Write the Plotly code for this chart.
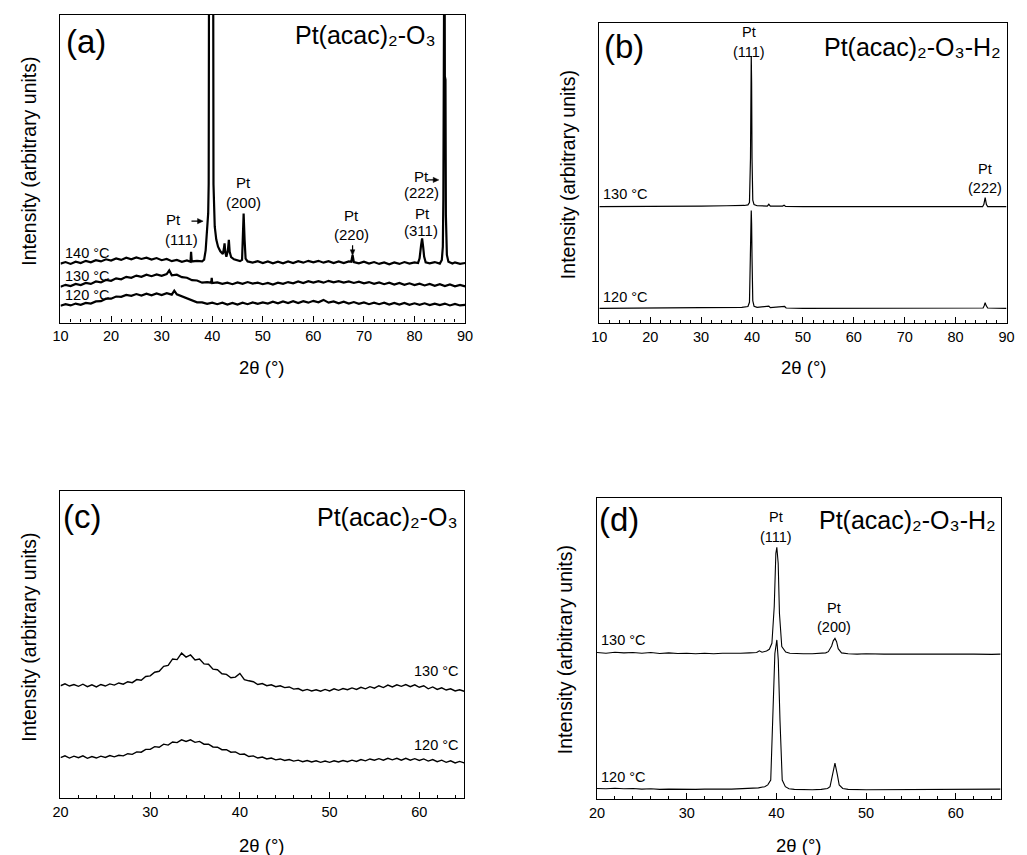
import plotly.graph_objects as go

W, H = 1027, 855
FONT = "Arial, Liberation Sans, sans-serif"

# ---------------- panel (a): Pt(acac)2-O3, 10-90 deg ----------------
a140_x = [10, 11, 12, 13, 14, 15, 16, 17, 18, 19, 20, 21, 22, 23, 24, 25, 26, 27, 28, 29,
          30, 31, 32, 33, 34, 35, 35.7, 35.82, 35.95, 37, 38, 38.4, 38.7, 38.9, 39.2, 39.3,
          39.39, 39.8, 40.17, 40.25, 40.35, 40.5, 40.8, 41.15, 41.6, 42.1, 42.3, 42.44, 42.6,
          42.8, 43.1, 43.29, 43.45, 43.74, 44.3, 44.9, 45.5, 45.9, 46.05, 46.21, 46.4, 46.6,
          47, 48, 49, 50, 51, 52, 53, 54, 55, 56, 57, 58, 59, 60, 61, 62, 63, 64, 65, 66, 67,
          67.5, 67.75, 68.0, 69, 70, 71, 72, 73, 74, 75, 76, 77, 78, 79, 80, 80.7, 81.0, 81.3,
          81.5, 81.7, 81.9, 82.2, 83, 84, 85, 85.4, 85.6, 85.7, 85.78, 85.92, 86.0, 86.12,
          86.2, 86.4, 86.7, 87.5, 88, 89, 90]
a140_y = [19.2, 19.7, 19.1, 19.8, 19.4, 20.1, 19.6, 20.3, 19.9, 20.6, 20.2, 20.9, 20.4, 21.1,
          20.6, 21.2, 20.7, 21.1, 20.5, 21.0, 20.3, 20.7, 20.0, 20.4, 19.8, 20.2, 19.8, 23.0,
          19.9, 20.1, 19.9, 20.5, 23.5, 29.0, 35.5, 45.0, 140, 200, 140, 45.0, 38.0, 31.2,
          27.0, 24.7, 23.2, 22.3, 24.0, 25.8, 22.8, 21.4, 23.5, 26.9, 23.0, 21.3, 20.6, 20.3,
          20.0, 20.4, 26.9, 35.5, 26.9, 20.8, 19.9, 19.5, 20.0, 19.4, 19.9, 19.3, 19.8, 19.3,
          19.9, 19.4, 20.0, 19.5, 20.1, 19.6, 20.1, 19.5, 20.0, 19.4, 19.9, 19.4, 19.9, 19.8,
          22.0, 19.7, 19.3, 19.8, 19.2, 19.7, 19.1, 19.6, 19.0, 19.6, 19.1, 19.7, 19.2, 19.6,
          19.4, 20.9, 25.2, 27.4, 24.7, 21.5, 19.6, 19.3, 19.7, 19.2, 20.4, 24.7, 40.0, 140,
          140, 80.0, 79.0, 35.0, 22.0, 19.8, 19.2, 19.6, 19.1, 19.4]

a130_x = [10, 11, 12, 13, 14, 15, 16, 17, 18, 19, 20, 21, 22, 23, 24, 25, 26, 27, 28, 29,
          30, 31, 31.5, 32, 33, 34, 35, 36, 37, 38, 39, 39.8, 39.9, 40.0, 41, 42, 43, 44, 45,
          46, 47, 48, 49, 50, 51, 52, 53, 54, 55, 56, 57, 58, 59, 60, 61, 62, 63, 64, 65, 66,
          67, 68, 69, 70, 71, 72, 73, 74, 75, 76, 77, 78, 79, 80, 81, 82, 83, 84, 85, 86, 87,
          88, 89, 90]
a130_y = [11.7, 12.3, 11.9, 12.6, 12.2, 12.9, 12.6, 13.4, 13.1, 13.9, 13.6, 14.4, 14.1, 14.9,
          14.6, 15.3, 14.9, 15.6, 15.1, 15.7, 15.2, 15.8, 17.0, 15.4, 15.6, 14.8, 14.6, 13.8,
          13.7, 13.0, 13.2, 13.0, 14.6, 12.9, 13.1, 12.6, 13.0, 12.5, 13.1, 12.6, 13.2, 12.7,
          13.0, 12.5, 12.9, 12.4, 13.0, 12.6, 13.2, 12.8, 13.4, 12.9, 13.5, 13.0, 13.5, 13.0,
          13.6, 13.1, 13.5, 13.0, 13.4, 12.9, 13.3, 12.8, 13.2, 12.6, 13.1, 12.5, 13.0, 12.4,
          12.9, 12.3, 12.8, 12.2, 12.7, 12.1, 12.6, 12.0, 12.5, 11.9, 12.4, 11.8, 12.3, 11.8]

a120_x = [10, 11, 12, 13, 14, 15, 16, 17, 18, 19, 20, 21, 22, 23, 24, 25, 26, 27, 28, 29,
          30, 31, 32, 32.5, 33, 34, 35, 36, 37, 38, 39, 40, 41, 42, 43, 44, 45, 46, 47, 48, 49,
          50, 51, 52, 53, 54, 55, 56, 57, 58, 59, 60, 61, 62, 63, 64, 65, 66, 67, 68, 69, 70,
          71, 72, 73, 74, 75, 76, 77, 78, 79, 80, 81, 82, 83, 84, 85, 86, 87, 88, 89, 90]
a120_y = [5.5, 6.0, 5.6, 6.2, 5.8, 6.4, 6.2, 6.9, 7.0, 7.8, 7.8, 8.5, 8.4, 9.0, 8.7, 9.3, 8.8,
          9.4, 8.9, 9.5, 9.0, 9.6, 9.1, 10.4, 9.2, 8.6, 7.9, 7.4, 6.6, 6.6, 6.1, 6.5, 6.0, 6.5,
          5.9, 6.4, 5.9, 6.5, 6.0, 6.6, 6.1, 6.6, 6.2, 6.8, 6.3, 6.9, 6.4, 7.0, 6.4, 7.0, 6.5,
          7.1, 6.6, 7.4, 6.5, 6.9, 6.3, 6.8, 6.2, 6.7, 6.1, 6.6, 6.0, 6.5, 6.0, 6.5, 5.9, 6.4,
          5.9, 6.4, 5.8, 6.3, 5.8, 6.3, 5.7, 6.2, 5.7, 6.2, 5.6, 6.1, 5.6, 5.8]

# ---------------- panel (b): Pt(acac)2-O3-H2, 10-90 deg ----------------
b130_x = [10, 17, 18.5, 20, 25, 30, 35, 37, 38.5, 39.2, 39.5, 39.7, 39.78, 39.85, 39.92, 40.0,
          40.15, 40.4, 41, 43, 43.3, 43.6, 46, 46.3, 46.6, 50, 60, 70, 80, 85.3, 85.55, 85.8,
          86.05, 86.3, 90]
b130_y = [38.8, 38.8, 38.9, 39.0, 39.0, 39.0, 39.1, 39.1, 39.2, 39.4, 40.2, 55.0, 80.0, 88.9,
          80.0, 55.0, 41.0, 39.5, 39.1, 39.0, 39.6, 39.0, 39.0, 39.3, 38.9, 38.8, 38.8, 38.8,
          38.8, 38.8, 39.6, 41.8, 39.5, 38.8, 38.8]

b120_x = [10, 17, 20, 30, 38, 39.2, 39.5, 39.7, 39.78, 39.85, 39.92, 40.0, 40.15, 40.4, 41,
          43.3, 43.6, 46.4, 46.7, 50, 60, 70, 81.3, 85.4, 85.6, 85.8, 86.0, 86.3, 90]
b120_y = [5.0, 5.0, 5.2, 5.2, 5.3, 5.6, 7.0, 22.0, 33.0, 37.5, 33.0, 22.0, 7.5, 5.7, 5.3, 5.7,
          5.2, 5.6, 5.1, 5.0, 5.0, 5.0, 5.2, 5.1, 5.8, 6.9, 5.9, 5.1, 5.0]

# ---------------- panel (c): Pt(acac)2-O3, 20-65 deg ----------------
c_x = [20, 20.5, 21, 21.5, 22, 22.5, 23, 23.5, 24, 24.5, 25, 25.5, 26, 26.5, 27, 27.5, 28,
       28.5, 29, 29.5, 30, 30.5, 31, 31.5, 32, 32.5, 33, 33.5, 34, 34.5, 35, 35.5, 36, 36.5,
       37, 37.5, 38, 38.5, 39, 39.5, 40, 40.5, 41, 41.5, 42, 42.5, 43, 43.5, 44, 44.5, 45,
       45.5, 46, 46.5, 47, 47.5, 48, 48.5, 49, 49.5, 50, 50.5, 51, 51.5, 52, 52.5, 53, 53.5,
       54, 54.5, 55, 55.5, 56, 56.5, 57, 57.5, 58, 58.5, 59, 59.5, 60, 60.5, 61, 61.5, 62,
       62.5, 63, 63.5, 64, 64.5, 65]
c130_y = [36.6, 37.2, 36.5, 37.0, 36.4, 37.1, 36.3, 36.9, 36.2, 37.0, 36.5, 37.2, 36.8, 37.5,
          37.1, 37.9, 37.6, 38.6, 38.4, 39.6, 39.8, 41.0, 41.3, 42.9, 43.2, 45.3, 45.1, 47.2,
          45.9, 46.6, 45.0, 45.3, 43.7, 43.6, 42.0, 41.8, 40.5, 40.3, 39.2, 39.4, 40.6, 38.6,
          38.2, 37.9, 37.0, 37.3, 36.6, 36.9, 36.3, 36.6, 36.0, 36.2, 35.5, 35.7, 35.0, 35.4,
          34.9, 35.3, 34.8, 35.4, 34.9, 35.6, 35.1, 35.7, 35.3, 35.9, 35.4, 36.1, 35.6, 36.3,
          35.8, 36.6, 36.0, 36.8, 36.2, 36.9, 36.4, 37.0, 36.3, 36.9, 36.1, 36.6, 35.6, 36.2,
          35.4, 35.9, 35.2, 35.6, 34.9, 35.3, 34.8]
c120_y = [13.2, 13.8, 13.1, 13.7, 13.2, 13.8, 13.0, 13.6, 13.1, 13.7, 13.3, 13.9, 13.5, 14.0,
          13.8, 14.5, 14.3, 15.1, 15.0, 15.9, 15.9, 16.8, 16.6, 17.6, 17.3, 18.3, 18.1, 19.0,
          18.5, 19.0, 18.2, 18.5, 17.6, 17.6, 16.7, 16.6, 15.8, 15.8, 15.0, 15.1, 14.3, 14.4,
          13.6, 13.8, 13.1, 13.4, 12.8, 13.1, 12.5, 12.8, 12.3, 12.6, 12.1, 12.4, 11.9, 12.3,
          11.8, 12.2, 11.7, 12.1, 11.7, 12.2, 11.8, 12.3, 11.9, 12.4, 12.0, 12.6, 12.2, 12.8,
          12.4, 12.9, 12.4, 13.0, 12.5, 13.0, 12.4, 13.0, 12.4, 12.9, 12.3, 12.8, 12.1, 12.6,
          11.9, 12.4, 11.7, 12.2, 11.5, 12.0, 11.5]

# ---------------- panel (d): Pt(acac)2-O3-H2, 20-65 deg ----------------
d130_x = [20, 21, 22, 23, 24, 25, 26, 27, 28, 29, 30, 31, 32, 33, 34, 35, 36, 37, 37.8, 38.1,
          38.4, 38.9, 39.21, 39.5, 39.76, 39.94, 40.05, 40.2, 40.34, 40.6, 41.04, 41.5, 42, 43,
          44, 45, 45.5, 45.79, 46.16, 46.34, 46.53, 46.71, 46.89, 47.26, 48, 49, 50, 52, 54,
          56, 58, 60, 62, 64, 65]
d130_y = [48.7, 48.5, 48.8, 48.6, 48.7, 48.5, 48.7, 48.4, 48.6, 48.4, 48.5, 48.3, 48.5, 48.3,
          48.5, 48.4, 48.5, 48.6, 48.7, 49.3, 48.8, 49.2, 49.8, 51.8, 64.0, 81.7, 83.7, 78.4,
          61.8, 50.7, 48.9, 48.5, 48.4, 48.3, 48.3, 48.4, 48.6, 49.0, 50.9, 52.6, 53.4, 52.3,
          50.0, 48.6, 48.3, 48.2, 48.3, 48.2, 48.3, 48.2, 48.2, 48.3, 48.2, 48.1, 48.2]

d120_x = [20, 21, 22, 23, 24, 25, 26, 27, 28, 29, 30, 31, 32, 33, 34, 35, 36, 37, 38, 38.7,
          39.04, 39.37, 39.61, 39.83, 40.05, 40.21, 40.4, 40.65, 41.0, 41.4, 42, 43, 44, 45,
          45.7, 45.98, 46.2, 46.53, 46.8, 47.0, 47.4, 48, 50, 52, 54, 56, 58, 60, 62, 64, 65]
d120_y = [3.5, 3.4, 3.6, 3.4, 3.5, 3.3, 3.4, 3.2, 3.3, 3.2, 3.3, 3.2, 3.3, 3.2, 3.3, 3.3, 3.4,
          3.5, 3.7, 4.1, 4.7, 6.3, 26.3, 48.4, 52.9, 46.2, 26.3, 6.3, 4.1, 3.4, 3.2, 3.1, 3.1,
          3.2, 3.5, 4.1, 7.4, 11.9, 8.0, 4.7, 3.5, 3.2, 3.1, 3.1, 3.2, 3.1, 3.1, 3.2, 3.1, 3.2,
          3.3]

temps = ["140 °C", "130 °C", "120 °C"]
title_o3 = "Pt(acac)₂-O₃"
title_o3h2 = "Pt(acac)₂-O₃-H₂"

fig = go.Figure()


def line(x, y, axis, width):
    fig.add_trace(go.Scatter(x=x, y=y, mode="lines", xaxis="x" + axis, yaxis="y" + axis,
                             line=dict(color="black", width=width), showlegend=False,
                             hoverinfo="skip"))


line(a140_x, a140_y, "", 2.2)
line(a130_x, a130_y, "", 2.2)
line(a120_x, a120_y, "", 2.2)
line(b130_x, b130_y, "2", 1.2)
line(b120_x, b120_y, "2", 1.2)
line(c_x, c130_y, "3", 1.4)
line(c_x, c120_y, "3", 1.4)
line(d130_x, d130_y, "4", 1.1)
line(d120_x, d120_y, "4", 1.1)

# panel frames in pixel coordinates: left, top, right, bottom
boxes = {
    "": (53.33, 15.0, 464.33, 322.67),
    "2": (600.67, 22.67, 1014.33, 323.33),
    "3": (53.33, 490.67, 463.33, 798.33),
    "4": (598.33, 498.33, 1008.33, 799.0),
}
xranges = {"": [10, 90], "2": [10, 90], "3": [20, 65], "4": [20, 65]}

layout = dict(width=W, height=H, margin=dict(l=0, r=0, t=0, b=0),
              paper_bgcolor="white", plot_bgcolor="white",
              font=dict(family=FONT, color="black"))
for k, (l, t, r, b) in boxes.items():
    layout["xaxis" + k] = dict(
        domain=[l / W, r / W], range=xranges[k], anchor="y" + k,
        showline=True, linecolor="black", linewidth=1.4, mirror=True,
        ticks="inside", ticklen=6, tickwidth=1.2, tickcolor="black", dtick=10,
        minor=dict(dtick=2, ticks="inside", ticklen=3, tickwidth=1.1, tickcolor="black"),
        showgrid=False, zeroline=False, tickfont=dict(size=14.5, family=FONT, color="black"))
    layout["yaxis" + k] = dict(
        domain=[1 - b / H, 1 - t / H], range=[0, 100], anchor="x" + k,
        showline=True, linecolor="black", linewidth=1.4, mirror=True,
        ticks="", showticklabels=False, showgrid=False, zeroline=False)
fig.update_layout(**layout)

ann = []
shapes = []


def text(axis, x, y, s, size=15, xa="center", ya="middle"):
    ann.append(dict(x=x, y=y, xref="x" + axis, yref="y" + axis, text=s, showarrow=False,
                    xanchor=xa, yanchor=ya, font=dict(size=size, family=FONT, color="black")))


# small pointer arrows of panel (a): shaft + filled head, drawn as shapes
# (x in degrees, y in panel units; one pixel is 0.195 deg and 0.325 units)
def arrow_right(x_tip, y):
    shapes.append(dict(type="line", xref="x", yref="y", x0=x_tip - 2.3, x1=x_tip - 0.6,
                       y0=y, y1=y, line=dict(color="black", width=1.2)))
    shapes.append(dict(type="path", xref="x", yref="y", fillcolor="black",
                       line=dict(color="black", width=0.5),
                       path=f"M {x_tip},{y} L {x_tip - 1.1},{y + 0.85} "
                            f"L {x_tip - 1.1},{y - 0.85} Z"))


def arrow_down(x, y_tip):
    shapes.append(dict(type="line", xref="x", yref="y", x0=x, x1=x,
                       y0=y_tip + 3.4, y1=y_tip + 1.2, line=dict(color="black", width=1.2)))
    shapes.append(dict(type="path", xref="x", yref="y", fillcolor="black",
                       line=dict(color="black", width=0.5),
                       path=f"M {x},{y_tip} L {x - 0.45},{y_tip + 1.9} "
                            f"L {x + 0.45},{y_tip + 1.9} Z"))


# (a)
text("", 10.6, 91.3, "(a)", 33, xa="left")
text("", 84.7, 93.5, title_o3, 25, xa="right")
text("", 10.46, 22.6, temps[0], 14.5, xa="left")
text("", 10.46, 15.2, temps[1], 14.5, xa="left")
text("", 10.46, 9.0, temps[2], 14.5, xa="left")
text("", 32.3, 33.4, "Pt")
text("", 33.9, 27.0, "(111)")
arrow_right(38.2, 33.0)
text("", 46.1, 45.4, "Pt")
text("", 46.1, 38.9, "(200)")
text("", 67.6, 34.7, "Pt")
text("", 67.6, 28.5, "(220)")
arrow_down(67.75, 21.8)
text("", 81.5, 35.6, "Pt")
text("", 81.3, 29.8, "(311)")
text("", 81.3, 47.6, "Pt")
text("", 81.4, 42.2, "(222)")
arrow_right(84.8, 46.4)

# (b)
text("2", 10.6, 92.0, "(b)", 33, xa="left")
text("2", 89.3, 92.0, title_o3h2, 25, xa="right")
text("2", 10.4, 43.0, temps[1], 14.5, xa="left")
text("2", 10.4, 8.9, temps[2], 14.5, xa="left")
text("2", 39.4, 96.9, "Pt", 14.5)
text("2", 39.4, 90.2, "(111)", 14.5)
text("2", 85.8, 51.2, "Pt", 14.5)
text("2", 85.8, 44.9, "(222)", 14.5)

# (c)
text("3", 20.05, 91.5, "(c)", 33, xa="left")
text("3", 64.5, 91.5, title_o3, 25, xa="right")
text("3", 64.6, 41.5, temps[1], 14.5, xa="right")
text("3", 64.6, 17.3, temps[2], 14.5, xa="right")

# (d)
text("4", 20.05, 92.8, "(d)", 33, xa="left")
text("4", 64.7, 92.8, title_o3h2, 25, xa="right")
text("4", 20.18, 52.9, temps[1], 14.5, xa="left")
text("4", 20.18, 7.4, temps[2], 14.5, xa="left")
text("4", 39.94, 93.7, "Pt", 14.5)
text("4", 39.94, 87.2, "(111)", 14.5)
text("4", 46.45, 63.6, "Pt", 14.5)
text("4", 46.45, 57.3, "(200)", 14.5)


# axis titles, placed in paper coordinates from pixel positions
def paper_text(px, py, s, size=19, angle=0):
    ann.append(dict(x=px / W, y=1 - py / H, xref="paper", yref="paper", text=s,
                    showarrow=False, textangle=angle, xanchor="center", yanchor="middle",
                    font=dict(size=size, family=FONT, color="black")))


ytitle = "Intensity (arbitrary units)"
xtitle = "2θ (°)"
paper_text(21, 161, ytitle, 19.5, -90)
paper_text(569, 175, ytitle, 19.5, -90)
paper_text(21, 637, ytitle, 19.5, -90)
paper_text(566, 650, ytitle, 19.5, -90)
paper_text(258, 367, xtitle, 18.5)
paper_text(808, 367, xtitle, 18.5)
paper_text(258, 845, xtitle, 18.5)
paper_text(803, 845, xtitle, 18.5)

fig.update_layout(annotations=ann, shapes=shapes)
fig.write_html("out.html")
